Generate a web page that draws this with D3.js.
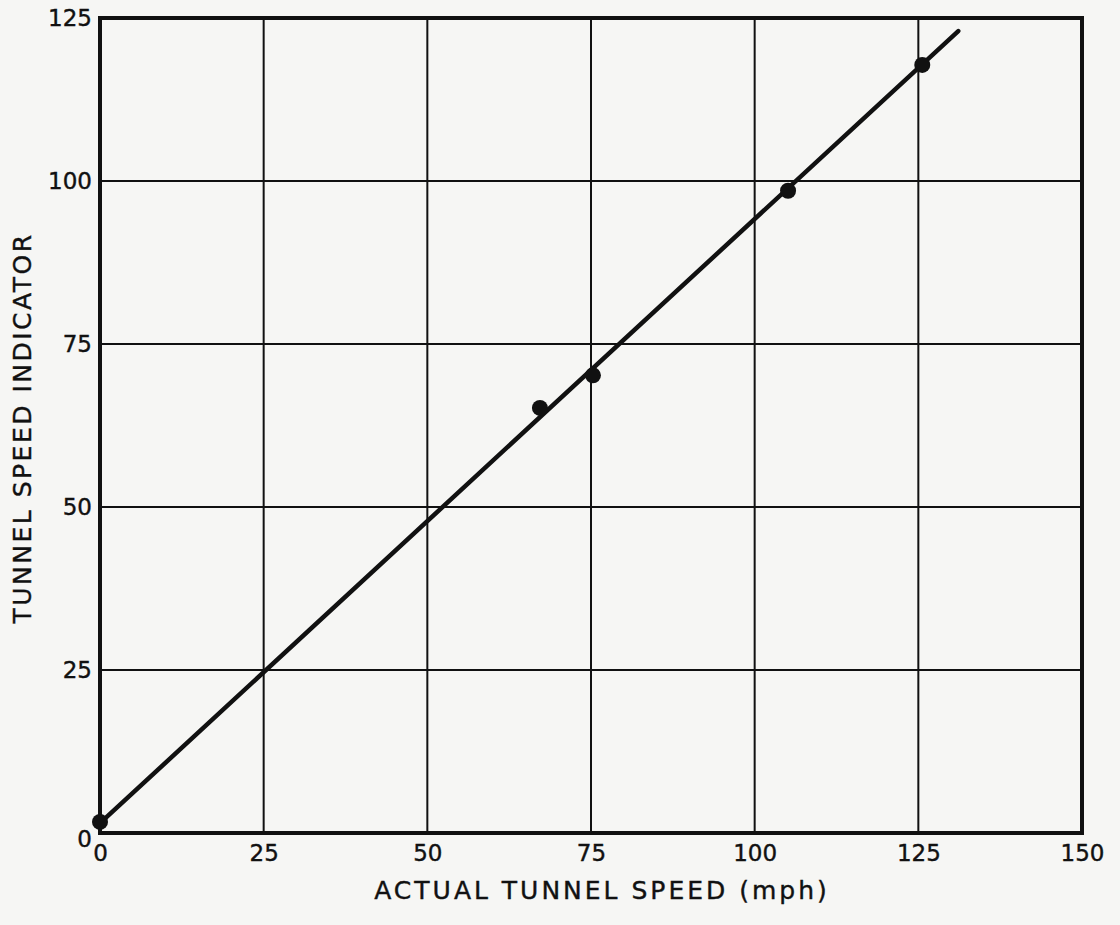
<!DOCTYPE html>
<html><head><meta charset="utf-8">
<script src="https://cdn.jsdelivr.net/npm/d3@7"></script>
<style>body{margin:0;background:#f6f6f4;}svg{display:block;}</style>
</head><body>
<script>
const xTicks = [0, 25, 50, 75, 100, 125, 150];
const yTicks = [0, 25, 50, 75, 100, 125];
const pointX = [0, 67.2, 75.3, 105.1, 125.6];
const pointY = [1.7, 65.2, 70.2, 98.5, 117.8];
const fitX = [0, 131.1];
const fitY = [1.5, 123.0];
const xTitle = "ACTUAL TUNNEL SPEED (mph)";
const yTitle = "TUNNEL SPEED INDICATOR";

const W = 1120, H = 925;
const m = {left: 100, right: 1082, top: 18, bottom: 833};
const svg = d3.select("body").append("svg").attr("width", W).attr("height", H);
svg.append("rect").attr("width", W).attr("height", H).attr("fill", "#f6f6f4");

const x = d3.scaleLinear().domain([0, 150]).range([m.left, m.right]);
const y = d3.scaleLinear().domain([0, 125]).range([m.bottom, m.top]);
const ink = "#111";
const font = "'DejaVu Sans', sans-serif";

// grid
const g = svg.append("g");
g.selectAll(".vx").data(xTicks.slice(1, -1)).join("line")
  .attr("x1", d => x(d)).attr("x2", d => x(d)).attr("y1", m.top).attr("y2", m.bottom)
  .attr("stroke", ink).attr("stroke-width", 2);
g.selectAll(".hy").data(yTicks.slice(1, -1)).join("line")
  .attr("y1", d => y(d)).attr("y2", d => y(d)).attr("x1", m.left).attr("x2", m.right)
  .attr("stroke", ink).attr("stroke-width", 2);

// frame
svg.append("rect").attr("x", m.left).attr("y", m.top)
  .attr("width", m.right - m.left).attr("height", m.bottom - m.top)
  .attr("fill", "none").attr("stroke", ink).attr("stroke-width", 4);

// axes labels via d3 axes
const xAxis = svg.append("g").attr("transform", `translate(0,${m.bottom})`)
  .call(d3.axisBottom(x).tickValues(xTicks).tickSize(0).tickPadding(12));
const yAxis = svg.append("g").attr("transform", `translate(${m.left},0)`)
  .call(d3.axisLeft(y).tickValues(yTicks).tickSize(0).tickPadding(8));
[xAxis, yAxis].forEach(a => {
  a.select(".domain").remove();
  a.selectAll("text").attr("font-family", font).attr("font-size", 23).attr("fill", ink)
    .attr("stroke", ink).attr("stroke-width", 0.4);
});
yAxis.selectAll("text").filter(d => d === 0).attr("dy", "0.6em");

// fit line
const line = d3.line().x(d => x(d[0])).y(d => y(d[1]));
svg.append("path").datum(d3.zip(fitX, fitY)).attr("d", line)
  .attr("fill", "none").attr("stroke", ink).attr("stroke-width", 4.5).attr("stroke-linecap", "round");

// points
svg.selectAll(".pt").data(d3.zip(pointX, pointY)).join("circle")
  .attr("cx", d => x(d[0])).attr("cy", d => y(d[1])).attr("r", 8).attr("fill", ink);

// titles
svg.append("text").attr("x", 602).attr("y", 899).attr("text-anchor", "middle")
  .attr("font-family", font).attr("font-size", 25).attr("fill", ink)
  .attr("stroke", ink).attr("stroke-width", 0.4)
  .attr("letter-spacing", 3).text(xTitle);
svg.append("text").attr("transform", "translate(31,428) rotate(-90)").attr("text-anchor", "middle")
  .attr("font-family", font).attr("font-size", 25).attr("fill", ink)
  .attr("stroke", ink).attr("stroke-width", 0.4)
  .attr("letter-spacing", 2.5).text(yTitle);
</script>
</body></html>
